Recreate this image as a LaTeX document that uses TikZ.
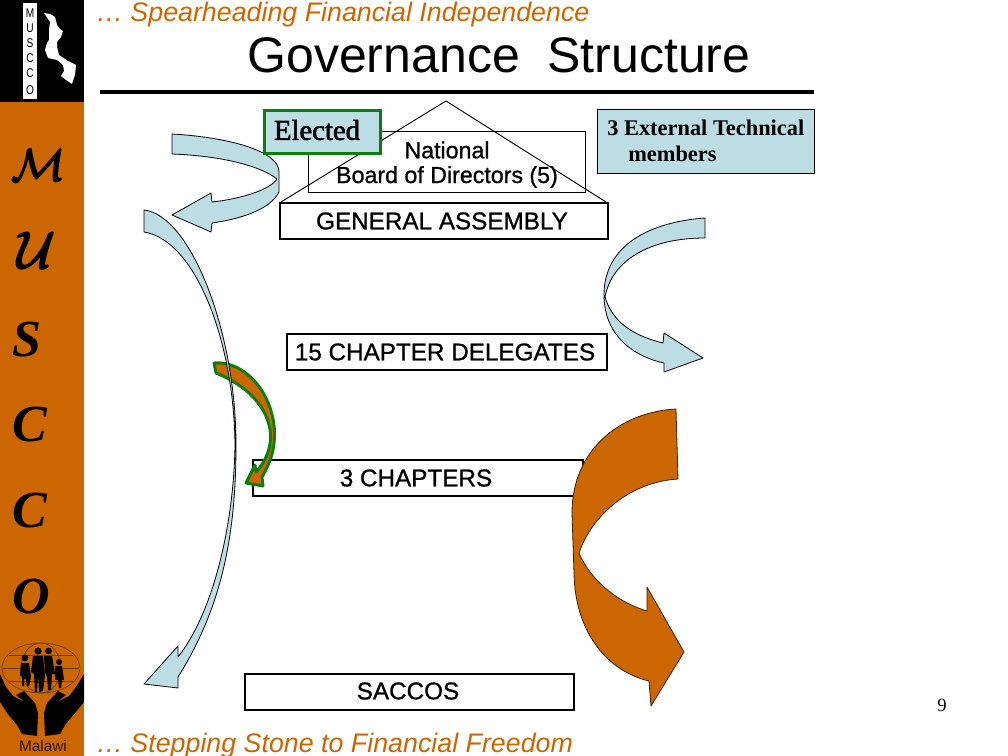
\documentclass[tikz,border=0pt]{standalone}
\usepackage{fontspec}
\setmainfont{Liberation Serif}
\setsansfont{Liberation Sans}
\newfontfamily\sansheavy[FakeBold=0.9]{Liberation Sans}
\newfontfamily\serifheavy[FakeBold=2]{Liberation Serif}
\definecolor{mOrange}{HTML}{CC6600}
\definecolor{mBlue}{HTML}{BBDDE3}
\definecolor{mGreen}{HTML}{0B7F0B}
\definecolor{mBrown}{HTML}{6B3A10}
\newcommand{\fsz}[1]{\fontsize{#1}{#1}\selectfont}
\newcommand{\heavyglyph}[1]{\special{pdf:code 2 Tr 0.9 w}$\mathcal{#1}$\special{pdf:code 0 Tr 1 w}}
\tikzset{
 levelbox/.style={draw=black,line width=1.5pt,fill=white,inner sep=0pt},
 leveltext/.style={inner sep=0pt,font=\sansheavy\fsz{18.2}},
 boardtext/.style={inner sep=0pt,font=\sansheavy\fsz{17.4}},
 sidearrow/.style={draw=black,line width=0.6pt,fill=mBlue,line join=round},
 bigarrow/.style={draw=black!70!mOrange,line width=0.6pt,fill=mOrange,line join=round},
 grearrow/.style={draw=mGreen,line width=2.2pt,fill=mOrange,line join=round},
 sideletter/.style={font=\bfseries\itshape\fsz{39},inner sep=0pt},
 scriptletter/.style={font=\fsz{40},inner sep=0pt},
 logoletter/.style={font=\sffamily\fsz{9.5},inner sep=0pt,xscale=.8},
 globe/.style={draw=mBrown,line width=0.5pt},
 figure/.style={fill=black,draw=none},
 orangetext/.style={font=\sffamily\itshape\fsz{20.1},text=mOrange,anchor=base west,inner sep=0pt}
}
\begin{document}
\begin{tikzpicture}[x=0.75pt,y=-0.75pt]
\path[use as bounding box,fill=white] (0,0) rectangle (1008,756);
% side bar
\fill[black] (0,0) rectangle (84,102);
\fill[mOrange] (0,102) rectangle (84,756);
\fill[white] (23,3) rectangle (37,99);
\foreach \n/\l/\yy in {a/M/13,b/U/28,c/S/43,d/C/58,e/C/73,f/O/90}{
  \node[logoletter] (logo\n) at (30,\yy) {\l};
}
% map of Malawi
\fill[white] (44,13) -- (50,14) -- (55,17) -- (57,25) -- (60,29) -- (63,31) -- (61,37) -- (57,42) -- (57,47) -- (59,55) -- (68,61) -- (76,65) -- (75,75) -- (72,84) -- (66,80) -- (61,76) -- (64,71) -- (63,65) -- (57,60) -- (48,58) -- (45,50) -- (47,43) -- (49,40) -- (49,30) -- (50,22) -- cycle;
% side letters
\node[scriptletter,scale=1.35] (sm) at (38,165) {\heavyglyph{M}};
\node[scriptletter,scale=1.55] (su) at (36,250) {\heavyglyph{U}};
\node[sideletter] (ss) at (27,340) {S};
\node[sideletter] (sc1) at (30,425) {C};
\node[sideletter] (sc2) at (30,511) {C};
\node[sideletter] (so) at (31,597) {O};
% logo globe
\draw[globe] (41,668) ellipse (39 and 25);
\draw[globe] (41,668) ellipse (20 and 25);
\draw[globe] (3,668) -- (79,668);
\draw[globe] (9,655) -- (73,655);
\draw[globe] (9,681) -- (73,681);
% logo people
\fill[figure] (25,658) circle (3.4);
\fill[figure] (21,663) -- (29,663) -- (31,676) -- (29,686) -- (27,686) -- (26,679) -- (24,679) -- (24,686) -- (22,686) -- (22,677) -- (20,675) -- cycle;
\fill[figure] (38,651) circle (3.6);
\fill[figure] (33,656) -- (43,656) -- (45,675) -- (43,691) -- (39,692) -- (38,675) -- (37,692) -- (35,692) -- (34,674) -- (31,672) -- cycle;
\fill[figure] (48.5,651) circle (3.4);
\fill[figure] (44,656) -- (52,656) -- (55,674) -- (52,674) -- (51,690) -- (48,690) -- (47,677) -- (45,672) -- cycle;
\fill[figure] (59,662) circle (3);
\fill[figure] (55,666) -- (62,666) -- (64,680) -- (62,680) -- (61,688) -- (59,688) -- (58,680) -- (55,680) -- cycle;
% logo hands
\fill[black] (0,674) -- (6,687) -- (13,696) -- (25,702) -- (16,695) -- (24,691) -- (35,703) -- (38,713) -- (37,736) -- (22,734) -- (17,725) -- (7,713) -- (0,702) -- cycle;
\fill[black] (84,674) -- (76,687) -- (69,696) -- (57,702) -- (66,695) -- (58,691) -- (47,703) -- (44,713) -- (45,736) -- (60,734) -- (65,725) -- (75,713) -- (84,702) -- cycle;
\node[inner sep=0pt,font=\sffamily\fsz{11.5},text=black!80!mOrange] (malawi) at (43,746) {Malawi};
% headers
\node[orangetext] (top) at (96,22) {\dots{} Spearheading Financial Independence};
\node[inner sep=0pt,font=\sffamily\fsz{37.5}] (title) at (499,55) {Governance\ \ Structure};
\draw[line width=3pt] (100,92) -- (814,92);
\node[orangetext] (bottom) at (96,752) {\dots{} Stepping Stone to Financial Freedom};
\node[inner sep=0pt,font=\fsz{14}] (pg) at (942,705) {9};
% national board
\node[draw=black,line width=0.6pt,minimum width=207.75pt,minimum height=45.75pt,inner sep=0pt,anchor=north west] (board) at (308,131) {};
\coordinate (apex) at (446,101);
\coordinate (bl) at (281,202);
\coordinate (br) at (606,202);
\draw[line width=0.7pt] (bl) -- (apex) -- (br);
\node[boardtext] (nat) at (447,150) {National};
\node[boardtext] (bod) at (447,177) {Board of Directors (5)};
% level boxes
\node[levelbox,minimum width=246pt,minimum height=27pt,anchor=north west] (ga) at (279,202) {};
\node[leveltext] (gat) at (442,221) {GENERAL ASSEMBLY};
\node[levelbox,minimum width=240pt,minimum height=27pt,anchor=north west] (cd) at (286,333) {};
\node[leveltext] (cdt) at (445,352) {15 CHAPTER DELEGATES};
\node[levelbox,minimum width=247.5pt,minimum height=27pt,anchor=north west] (ch) at (252,459) {};
\node[leveltext] (cht) at (416,478) {3 CHAPTERS};
\node[levelbox,minimum width=247pt,minimum height=27pt,anchor=north west] (sa) at (244,673) {};
\node[leveltext] (sat) at (408,691) {SACCOS};
% green arrow
\draw[grearrow] (214,363) .. controls (250,360) and (282,405) .. (273,450) .. controls (271,460) and (266,470) .. (262,477) -- (263,486) -- (246,483) -- (255,465) -- (256,472) .. controls (285,440) and (270,395) .. (216,373) -- cycle;
% blue long arrow
\draw[sidearrow] (144,210) .. controls (190,215) and (236,330) .. (236,445) .. controls (236,540) and (220,610) .. (178,677) -- (178,688) -- (144,684) -- (178,646) -- (178,657) .. controls (215,610) and (234,520) .. (235,445) .. controls (234,340) and (195,240) .. (144,232) -- cycle;
% elected arrow
\draw[sidearrow] (172,134) .. controls (225,137) and (279,150) .. (279,172) -- (279,192) .. controls (270,210) and (240,219) .. (212,223) -- (211,232) -- (172,215) -- (211,193) -- (212,202) .. controls (240,199) and (270,190) .. (277,179) .. controls (262,167) and (225,156) .. (172,154) -- cycle;
\node[draw=mGreen,line width=2.2pt,fill=mBlue,minimum width=87pt,minimum height=32.5pt,inner sep=0pt,anchor=north west] (el) at (263,109) {};
\node[inner sep=0pt,font=\serifheavy\fsz{21.5}] (elt) at (317,130) {Elected};
% external box
\node[draw=black,line width=0.6pt,fill=mBlue,minimum width=163pt,minimum height=48pt,inner sep=0pt,anchor=north west] (ex) at (597,109) {};
\node[inner sep=0pt,font=\fsz{16.8}\bfseries,anchor=base west] (ex1) at (607,136) {3 External Technical};
\node[inner sep=0pt,font=\fsz{16.8}\bfseries,anchor=base west] (ex2) at (628,162) {members};
% right blue arrow
\draw[sidearrow] (705,218) .. controls (650,222) and (604,245) .. (604,295) .. controls (604,340) and (640,358) .. (664,363) -- (664,372) -- (703,358) -- (664,333) -- (663,343) .. controls (630,335) and (612,320) .. (605,297) .. controls (612,260) and (650,238) .. (705,238) -- cycle;
% orange arrow
\draw[bigarrow] (676,409) .. controls (620,412) and (572,450) .. (572,513) -- (574,573) .. controls (575,635) and (610,672) .. (649,681) -- (651,706) -- (684,652) -- (647,587) -- (647,611) .. controls (620,603) and (592,583) .. (579,553) .. controls (592,515) and (630,482) .. (678,479) -- cycle;
\end{tikzpicture}
\end{document}
